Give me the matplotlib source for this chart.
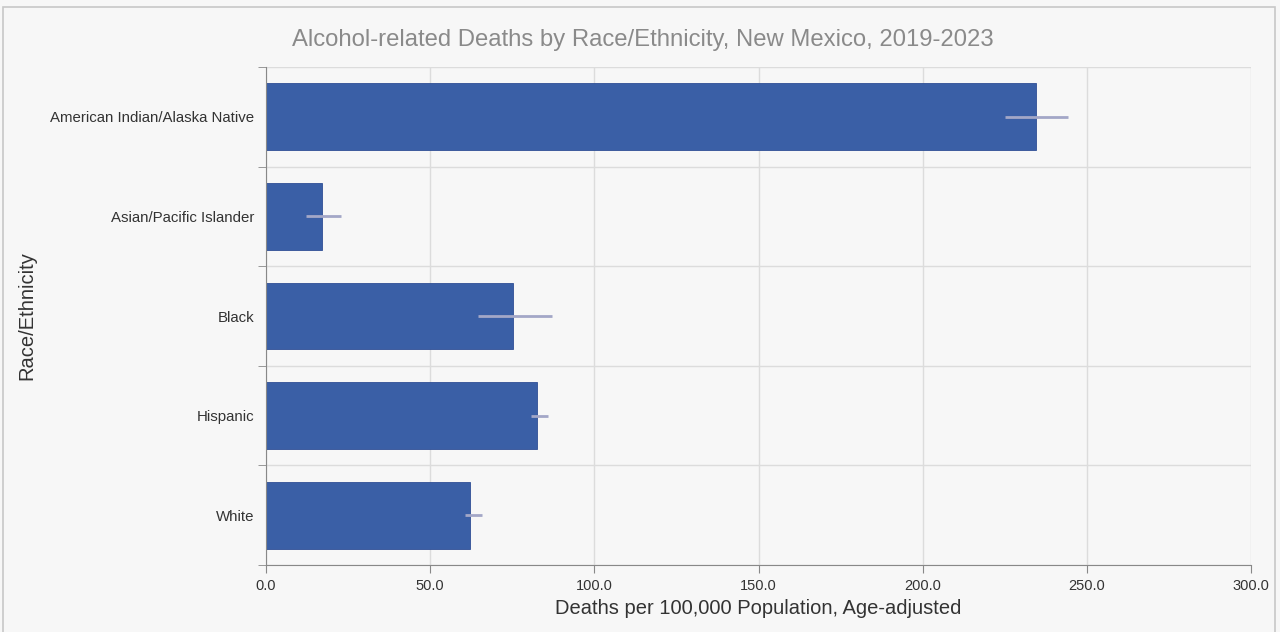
import matplotlib.pyplot as plt
from matplotlib.patches import Rectangle
import matplotlib

matplotlib.rcParams.update({
    'font.family': ['Liberation Sans', 'DejaVu Sans'],
    'figure.dpi': 100,
    'figure.facecolor': '#f7f7f7',
})

groups = ['American Indian/Alaska Native', 'Asian/Pacific Islander', 'Black',
          'Hispanic', 'White']
rates = [234.6, 17.0, 75.3, 82.4, 62.2]
ci_low = [225.1, 12.2, 64.5, 80.6, 60.5]
ci_high = [244.3, 22.8, 87.0, 85.8, 65.7]

bar_color = '#3a5fa6'
err_color = '#a3a7c7'
grid_color = '#dcdcdc'

fig = plt.figure(figsize=(12.8, 6.32))
fig.patches.append(Rectangle((3 / 1280, -0.01), 1272 / 1280, 1 - 7 / 632 + 0.01,
                             transform=fig.transFigure, fill=False,
                             edgecolor='#c8c8c8', linewidth=1.2))
ax = fig.add_axes([266 / 1280, 1 - 565 / 632, 985 / 1280, 498 / 632])
ax.set_facecolor('#f7f7f7')

pos = list(range(len(groups)))
ax.barh(pos, rates, height=0.67, color=bar_color, edgecolor='#2f4f95',
        linewidth=0.6, zorder=2)
for p, lo, hi in zip(pos, ci_low, ci_high):
    ax.plot([lo, hi], [p, p], color=err_color, linewidth=2, zorder=3,
            solid_capstyle='butt')

ax.set_xlim(0, 300)
ax.set_ylim(len(groups) - 0.5, -0.5)
ax.set_xticks([0, 50, 100, 150, 200, 250, 300])
ax.set_xticklabels([f'{v:.1f}' for v in [0, 50, 100, 150, 200, 250, 300]])
ax.set_yticks(pos)
ax.set_yticklabels(groups)
ax.set_yticks([p - 0.5 for p in pos] + [len(groups) - 0.5], minor=True)

ax.grid(axis='x', color=grid_color, linewidth=1, zorder=0)
ax.grid(axis='y', which='minor', color=grid_color, linewidth=1, zorder=0)
ax.tick_params(axis='y', which='major', length=0, pad=8.5, labelsize=10.8,
               labelcolor='#333333')
ax.tick_params(axis='y', which='minor', length=6, color='#888888')
ax.tick_params(axis='x', length=6, color='#888888', labelsize=10.5,
               labelcolor='#333333', pad=4)

for s in ['top', 'right']:
    ax.spines[s].set_visible(False)
ax.spines['left'].set_color('#888888')
ax.spines['bottom'].set_color('#888888')

fig.suptitle('Alcohol-related Deaths by Race/Ethnicity, New Mexico, 2019-2023',
             x=643 / 1280, y=1 - 40 / 632, va='center', fontsize=17.2,
             color='#8a8a8a')
ax.set_xlabel('Deaths per 100,000 Population, Age-adjusted', fontsize=14.5,
              color='#333333')
ax.xaxis.set_label_coords(0.5, -(609 - 565) / 498)
ax.xaxis.label.set_va('center')
ax.set_ylabel('Race/Ethnicity', fontsize=14.5, color='#333333')
ax.yaxis.set_label_coords(-(266 - 27) / 985, 0.5)
ax.yaxis.label.set_va('center')

fig.savefig('out.png', dpi=100, facecolor=fig.get_facecolor())
